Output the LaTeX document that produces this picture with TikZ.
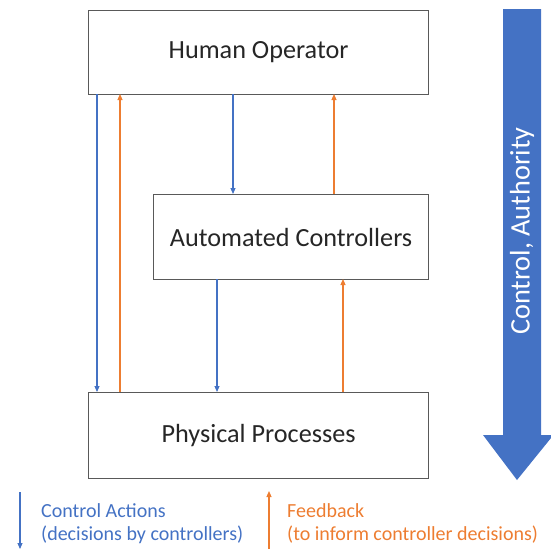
\documentclass[tikz,border=0pt]{standalone}
\usepackage{fontspec}
\setmainfont{Carlito}
\usetikzlibrary{arrows.meta}
\definecolor{ctrlblue}{HTML}{4472C4}
\definecolor{fbOrange}{HTML}{ED7D31}
\definecolor{boxgray}{HTML}{595959}
\definecolor{txtgray}{HTML}{262626}
\begin{document}
\begin{tikzpicture}[x=1pt,y=-1pt,
  blk/.style={draw=boxgray,line width=1.2pt,fill=white,text=txtgray,font=\fontsize{26.2}{30}\selectfont,anchor=north west,inner sep=0pt},
  ctrl/.style={draw=ctrlblue,line width=1.1pt,-{Triangle[length=6pt,width=5pt]}},
  fb/.style={draw=fbOrange,line width=1.1pt,-{Triangle[length=6pt,width=5pt]}},
  legtxt/.style={font=\fontsize{20}{24}\selectfont,anchor=west,inner sep=0pt}]
\useasboundingbox (0,0) rectangle (551,550);
% boxes
\node[blk,minimum width=340pt,minimum height=84pt] (human) at (88,10) {Human Operator};
\node[blk,minimum width=275pt,minimum height=85pt] (auto) at (153,194) {Automated Controllers};
\node[blk,minimum width=340pt,minimum height=86pt] (phys) at (88,392) {Physical Processes};
% anchors on box edges
\coordinate (h1) at (97,94);   \coordinate (p1) at (97,392);
\coordinate (h2) at (120,94);  \coordinate (p2) at (120,392);
\coordinate (h3) at (233,94);  \coordinate (a3) at (233,194);
\coordinate (h4) at (334,94);  \coordinate (a4) at (334,194);
\coordinate (a5) at (217,279); \coordinate (p5) at (217,392);
\coordinate (a6) at (343,279); \coordinate (p6) at (343,392);
\draw[ctrl] (h1) -- (p1);
\draw[fb] (p2) -- (h2);
\draw[ctrl] (h3) -- (a3);
\draw[fb] (a4) -- (h4);
\draw[ctrl] (a5) -- (p5);
\draw[fb] (p6) -- (a6);
% authority arrow
\fill[ctrlblue] (503,9) -- (541,9) -- (541,435) -- (551,435) -- (551,438) -- (517,480) -- (483,435) -- (503,435) -- cycle;
\node[rotate=90,text=white,font=\fontsize{28.3}{32}\selectfont,inner sep=0pt] (auth) at (522,231) {Control, Authority};
% legend
\coordinate (l1a) at (20,492); \coordinate (l1b) at (20,549);
\draw[ctrl] (l1a) -- (l1b);
\node[legtxt,text=ctrlblue] (lca) at (41,511) {Control Actions};
\node[legtxt,text=ctrlblue] (lcb) at (41,535) {(decisions by controllers)};
\coordinate (l2a) at (269,549); \coordinate (l2b) at (269,491);
\draw[fb] (l2a) -- (l2b);
\node[legtxt,text=fbOrange] (lfa) at (287,511) {Feedback};
\node[legtxt,text=fbOrange] (lfb) at (287,535) {(to inform controller decisions)};
\end{tikzpicture}
\end{document}
